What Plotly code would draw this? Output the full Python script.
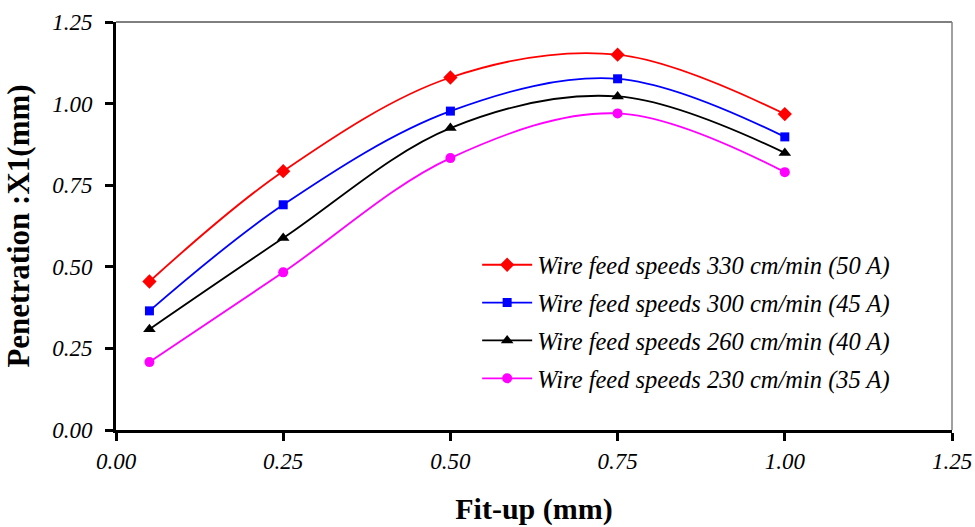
import plotly.graph_objects as go

fit_up = [0.05, 0.25, 0.50, 0.75, 1.00]
s330 = [0.455, 0.793, 1.080, 1.150, 0.968]
s300 = [0.365, 0.690, 0.977, 1.076, 0.898]
s260 = [0.309, 0.588, 0.925, 1.022, 0.849]
s230 = [0.208, 0.483, 0.833, 0.970, 0.790]

names = ["Wire feed speeds 330 cm/min (50 A)",
         "Wire feed speeds 300 cm/min (45 A)",
         "Wire feed speeds 260 cm/min (40 A)",
         "Wire feed speeds 230 cm/min (35 A)"]
series = [s330, s300, s260, s230]
colors = ["#ff0000", "#0000ff", "#000000", "#ff00ff"]
symbols = ["diamond", "square", "triangle-up", "circle"]
sizes = [11, 9, 11, 10]

x_ticks = [0.0, 0.25, 0.5, 0.75, 1.0, 1.25]
y_ticks = [0.0, 0.25, 0.5, 0.75, 1.0, 1.25]

fig = go.Figure()
for i, (name, ys, c, sym, sz) in enumerate(zip(names, series, colors, symbols, sizes)):
    fig.add_trace(go.Scatter(
        x=fit_up, y=ys, name=name, mode="lines+markers",
        legendgroup=f"g{i}",
        line=dict(color=c, width=1.8, shape="spline", smoothing=1.0),
        marker=dict(symbol=sym, color=c, size=sz),
    ))

font = "Liberation Serif"
fig.update_layout(
    width=975, height=527,
    margin=dict(l=116, r=23, t=22, b=97, autoexpand=False),
    paper_bgcolor="white", plot_bgcolor="white",
    font=dict(family=font, color="black"),
    showlegend=True,
    legend=dict(x=0.432, y=0.46, xanchor="left", yanchor="top",
                bgcolor="rgba(0,0,0,0)",
                font=dict(family=font, size=24.5, style="italic"),
                itemwidth=50, tracegroupgap=3),
    xaxis=dict(range=[0, 1.25], tickvals=x_ticks,
               ticktext=[f"{v:.2f}" for v in x_ticks],
               showgrid=False, zeroline=False, automargin=False,
               showline=True, linecolor="black", linewidth=3,
               ticks="outside", ticklen=8, tickwidth=3, tickcolor="black",
               tickfont=dict(family=font, size=23, style="italic"),
               title=dict(text="<b>Fit-up (mm)</b>",
                          font=dict(family=font, size=30), standoff=26)),
    yaxis=dict(range=[0, 1.25], tickvals=y_ticks,
               ticktext=[f"{v:.2f}" for v in y_ticks],
               showgrid=False, zeroline=False, automargin=False,
               showline=True, linecolor="black", linewidth=3,
               ticks="outside", ticklen=8, tickwidth=3, tickcolor="black",
               ticklabelstandoff=8,
               tickfont=dict(family=font, size=23, style="italic"),
               title=dict(text="<b>Penetration :X1(mm)</b>",
                          font=dict(family=font, size=31), standoff=14)),
    shapes=[
        dict(type="line", xref="paper", yref="paper", x0=0, x1=1, y0=1, y1=1,
             line=dict(color="black", width=1)),
        dict(type="line", xref="paper", yref="paper", x0=1, x1=1, y0=0, y1=1,
             line=dict(color="#808080", width=1.5)),
    ],
)

fig.write_html("out.html")
